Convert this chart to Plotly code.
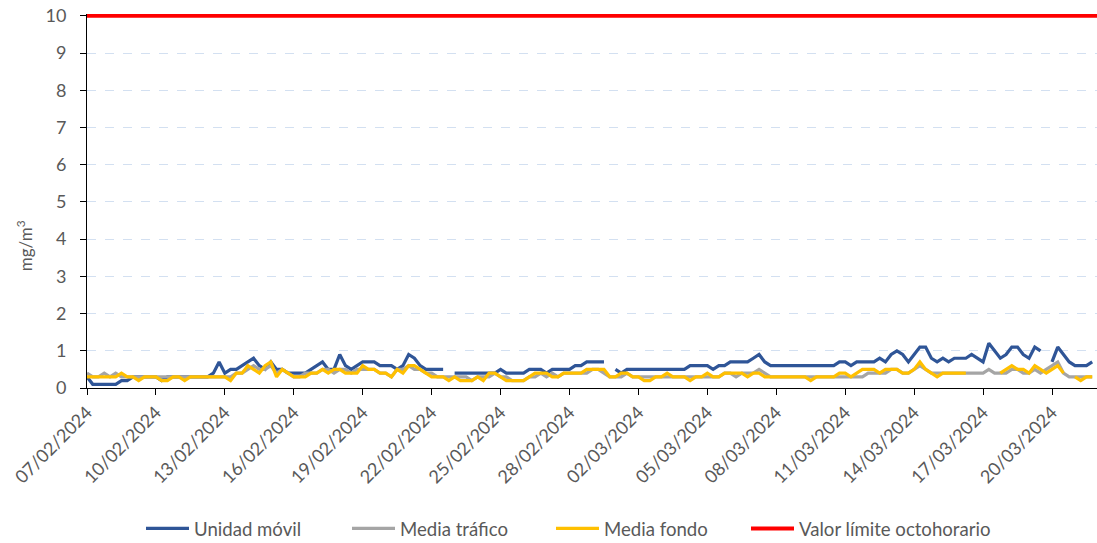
import pandas as pd
import plotly.graph_objects as go

N = None
START = "2024-02-07 00:00"
STEP = "6h"

# Unidad móvil (8h mean, mg/m3), 4 values per day
unidad_movil = [
    0.3, 0.1, 0.1, 0.1,   0.1, 0.1, 0.2, 0.2,   0.3, 0.3, 0.3, 0.3,   0.3, 0.2, 0.3, 0.3,
    0.3, 0.3, 0.3, 0.3,   0.3, 0.3, 0.4, 0.7,   0.4, 0.5, 0.5, 0.6,   0.7, 0.8, 0.6, 0.5,
    0.7, 0.5, 0.5, 0.4,   0.4, 0.4, 0.4, 0.5,   0.6, 0.7, 0.5, 0.5,   0.9, 0.6, 0.5, 0.6,
    0.7, 0.7, 0.7, 0.6,   0.6, 0.6, 0.5, 0.6,   0.9, 0.8, 0.6, 0.5,   0.5, 0.5, 0.5, N,
    0.4, 0.4, 0.4, 0.4,   0.4, 0.4, 0.4, 0.4,   0.5, 0.4, 0.4, 0.4,   0.4, 0.5, 0.5, 0.5,
    0.4, 0.5, 0.5, 0.5,   0.5, 0.6, 0.6, 0.7,   0.7, 0.7, 0.7, N,     0.5, 0.4, 0.5, 0.5,
    0.5, 0.5, 0.5, 0.5,   0.5, 0.5, 0.5, 0.5,   0.5, 0.6, 0.6, 0.6,   0.6, 0.5, 0.6, 0.6,
    0.7, 0.7, 0.7, 0.7,   0.8, 0.9, 0.7, 0.6,   0.6, 0.6, 0.6, 0.6,   0.6, 0.6, 0.6, 0.6,
    0.6, 0.6, 0.6, 0.7,   0.7, 0.6, 0.7, 0.7,   0.7, 0.7, 0.8, 0.7,   0.9, 1.0, 0.9, 0.7,
    0.9, 1.1, 1.1, 0.8,   0.7, 0.8, 0.7, 0.8,   0.8, 0.8, 0.9, 0.8,   0.7, 1.2, 1.0, 0.8,
    0.9, 1.1, 1.1, 0.9,   0.8, 1.1, 1.0, N,     0.7, 1.1, 0.9, 0.7,   0.6, 0.6, 0.6, 0.7,
]

media_trafico = [
    0.4, 0.3, 0.3, 0.4,   0.3, 0.4, 0.3, 0.3,   0.3, 0.3, 0.3, 0.3,   0.3, 0.3, 0.3, 0.3,
    0.3, 0.3, 0.3, 0.3,   0.3, 0.3, 0.3, 0.3,   0.3, 0.3, 0.4, 0.4,   0.5, 0.6, 0.5, 0.5,
    0.6, 0.4, 0.5, 0.4,   0.3, 0.3, 0.4, 0.4,   0.4, 0.5, 0.5, 0.4,   0.5, 0.5, 0.4, 0.5,
    0.5, 0.5, 0.5, 0.4,   0.4, 0.3, 0.5, 0.5,   0.6, 0.5, 0.5, 0.4,   0.4, 0.3, 0.3, 0.3,
    0.3, 0.3, 0.3, 0.2,   0.3, 0.3, 0.3, 0.4,   0.3, 0.3, 0.2, 0.2,   0.2, 0.3, 0.3, 0.4,
    0.3, 0.4, 0.3, 0.4,   0.4, 0.4, 0.4, 0.4,   0.5, 0.5, 0.4, 0.3,   0.3, 0.3, 0.4, 0.3,
    0.3, 0.3, 0.3, 0.3,   0.3, 0.3, 0.3, 0.3,   0.3, 0.3, 0.3, 0.3,   0.3, 0.3, 0.3, 0.4,
    0.4, 0.3, 0.4, 0.4,   0.4, 0.5, 0.4, 0.3,   0.3, 0.3, 0.3, 0.3,   0.3, 0.3, 0.3, 0.3,
    0.3, 0.3, 0.3, 0.3,   0.3, 0.3, 0.3, 0.3,   0.4, 0.4, 0.4, 0.4,   0.5, 0.5, 0.4, 0.4,
    0.5, 0.6, 0.5, 0.4,   0.4, 0.4, 0.4, 0.4,   0.4, 0.4, 0.4, 0.4,   0.4, 0.5, 0.4, 0.4,
    0.4, 0.5, 0.5, 0.4,   0.4, 0.5, 0.4, 0.5,   0.6, 0.7, 0.4, 0.3,   0.3, 0.3, 0.3, 0.3,
]

media_fondo = [
    0.3, 0.3, 0.3, 0.3,   0.3, 0.3, 0.4, 0.3,   0.3, 0.2, 0.3, 0.3,   0.3, 0.2, 0.2, 0.3,
    0.3, 0.2, 0.3, 0.3,   0.3, 0.3, 0.3, 0.3,   0.3, 0.2, 0.4, 0.4,   0.6, 0.5, 0.4, 0.6,
    0.7, 0.3, 0.5, 0.4,   0.3, 0.3, 0.3, 0.4,   0.4, 0.5, 0.4, 0.5,   0.5, 0.4, 0.4, 0.4,
    0.6, 0.5, 0.5, 0.4,   0.4, 0.3, 0.5, 0.4,   0.6, 0.6, 0.5, 0.4,   0.3, 0.3, 0.3, 0.2,
    0.3, 0.2, 0.2, 0.2,   0.3, 0.2, 0.4, 0.4,   0.3, 0.2, 0.2, 0.2,   0.2, 0.3, 0.4, 0.4,
    0.4, 0.3, 0.3, 0.4,   0.4, 0.4, 0.4, 0.5,   0.5, 0.5, 0.5, 0.3,   0.3, 0.4, 0.4, 0.3,
    0.3, 0.2, 0.2, 0.3,   0.3, 0.4, 0.3, 0.3,   0.3, 0.2, 0.3, 0.3,   0.4, 0.3, 0.3, 0.4,
    0.4, 0.4, 0.4, 0.3,   0.4, 0.4, 0.3, 0.3,   0.3, 0.3, 0.3, 0.3,   0.3, 0.3, 0.2, 0.3,
    0.3, 0.3, 0.3, 0.4,   0.4, 0.3, 0.4, 0.5,   0.5, 0.5, 0.4, 0.5,   0.5, 0.5, 0.4, 0.4,
    0.5, 0.7, 0.5, 0.4,   0.3, 0.4, 0.4, 0.4,   0.4, 0.4, N, N,       N, N, N, 0.4,
    0.5, 0.6, 0.5, 0.5,   0.4, 0.6, 0.5, 0.4,   0.5, 0.6, 0.4, N,     0.3, 0.2, 0.3, 0.3,
]

VALOR_LIMITE = 10

Y_TICKS = list(range(0, 11))
X_TICK_START = "2024-02-07"
X_TICK_DAYS = 3

dates = pd.date_range(START, periods=len(unidad_movil), freq=STEP)
limit_dates = [pd.Timestamp("2024-02-07 00:00"), pd.Timestamp("2024-03-22 00:00")]
limit_vals = [VALOR_LIMITE] * len(limit_dates)

font_fam = "Lato, 'Open Sans', sans-serif"
txt = "#595959"

fig = go.Figure()
fig.add_trace(go.Scatter(x=dates, y=unidad_movil, mode="lines", name="Unidad móvil",
                         line=dict(color="#2F5597", width=3.2), legend="legend"))
fig.add_trace(go.Scatter(x=dates, y=media_trafico, mode="lines", name="Media tráfico",
                         line=dict(color="#A5A5A5", width=3.2), legend="legend2"))
fig.add_trace(go.Scatter(x=dates, y=media_fondo, mode="lines", name="Media fondo",
                         line=dict(color="#FFC000", width=3.2), legend="legend3"))
fig.add_trace(go.Scatter(x=limit_dates, y=limit_vals,
                         mode="lines", name="Valor límite octohorario",
                         line=dict(color="#FF0000", width=4), legend="legend4"))


def leg(px):
    return dict(orientation="h", xref="container", yref="container",
                x=(px + 4) / 1097, xanchor="left", y=0.026, yanchor="middle",
                itemwidth=43,
                font=dict(size=18.6, color=txt), bgcolor="rgba(0,0,0,0)")


fig.update_layout(
    width=1097, height=543,
    margin=dict(l=87, r=0, t=14, b=155, autoexpand=False),
    paper_bgcolor="white", plot_bgcolor="white",
    font=dict(family=font_fam, color=txt, size=18),
    showlegend=True,
    legend=leg(137), legend2=leg(343), legend3=leg(547), legend4=leg(742),
    annotations=[dict(text="mg/m<sup>3</sup>", textangle=-90, xref="paper", yref="paper",
                      x=(24 - 87) / 1010, y=(388 - 247) / 372, xanchor="center", yanchor="middle",
                      showarrow=False, font=dict(size=17, color=txt))],
)
fig.update_xaxes(
    type="date", automargin=False,
    range=[pd.Timestamp("2024-02-07 00:00"), pd.Timestamp("2024-03-21 23:00")],
    tick0=X_TICK_START, dtick=X_TICK_DAYS * 86400000,
    tickformat="%d/%m/%Y", tickangle=-45,
    showline=True, linecolor="black", linewidth=1,
    ticks="outside", ticklen=6, tickcolor="black",
    showgrid=False, zeroline=False,
    tickfont=dict(size=18, color=txt),
)
fig.update_yaxes(
    automargin=False,
    range=[0, 10.05], tickvals=Y_TICKS,
    showline=True, linecolor="black", linewidth=1,
    ticks="outside", ticklen=6, tickcolor="black",
    showgrid=True, gridcolor="#D3E0F1", griddash="dash", gridwidth=1,
    zeroline=False, ticklabelstandoff=10,
    tickfont=dict(size=18, color=txt),
)

fig.write_html("out.html", config={"displayModeBar": False},
               post_script="document.body.style.margin='0';document.body.style.overflow='hidden';")
